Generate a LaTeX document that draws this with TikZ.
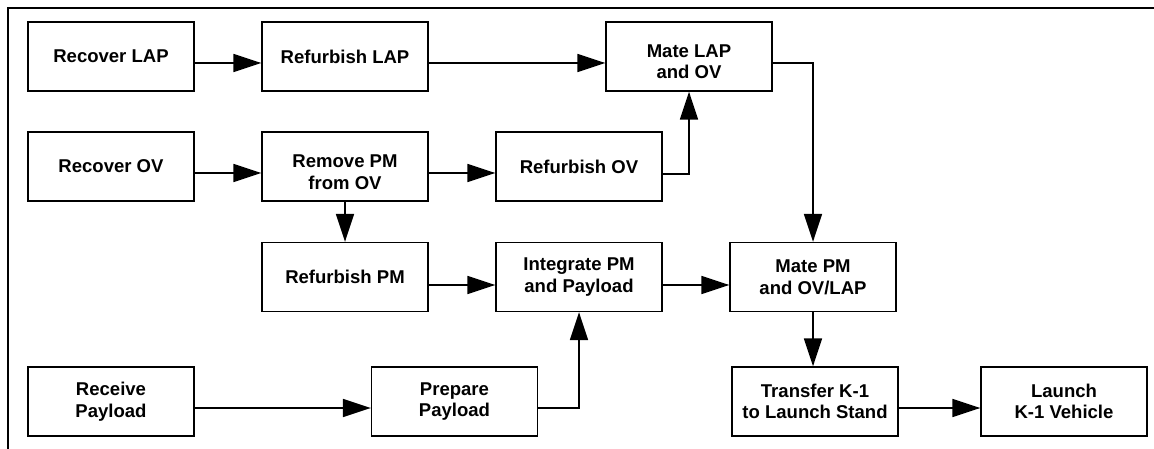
\documentclass[tikz,border=0pt]{standalone}
\usepackage{fontspec}
\setmainfont{Liberation Sans}
\usetikzlibrary{arrows.meta}
\begin{document}
\begin{tikzpicture}[x=0.75pt,y=-0.75pt,
  box/.style={draw,line width=1pt,minimum width=124.5pt,minimum height=51.75pt,
    inner sep=0pt,align=center,font=\fontsize{13.9}{16.3}\selectfont\bfseries},
  arr/.style={line width=1.3pt,-{Triangle[length=21pt,width=13.5pt]}},
  frame/.style={line width=1.6pt}]
\useasboundingbox (0,0) rectangle (1154,449);
\coordinate (ftl) at (8,8);
\coordinate (ftr) at (1154,8);
\coordinate (fbl) at (8,449);
\draw[frame] (fbl) -- (ftl) -- (ftr);

\node[box] (rlap) at (111,56.5) {Recover LAP};
\node[box] (flap) at (345,56.5) {Refurbish LAP};
\node[box] (mlap) at (689,56.5) {\rule{0pt}{17.5pt}Mate LAP\\and OV};
\node[box] (rov)  at (111,166.5) {Recover OV};
\node[box] (rpm)  at (345,166.5) {\rule{0pt}{18.5pt}Remove PM\\from OV};
\node[box] (fov)  at (579,166.5) {Refurbish OV};
\node[box] (fpm)  at (345,277) {Refurbish PM};
\node[box] (ipm)  at (579,277) {Integrate PM\\and Payload};
\node[box] (mpm)  at (813,277) {Mate PM\\and OV/LAP};
\node[box] (rpay) at (111,401.5) {Receive\\Payload};
\node[box] (ppay) at (454.5,401.5) {Prepare\\Payload};
\node[box] (tk1)  at (815,401.5) {Transfer K-1\\to Launch Stand};
\node[box] (lk1)  at (1064,401.5) {Launch\\K-1 Vehicle};

\draw[arr] (rlap.east |- 0,63) -- (flap.west |- 0,63);
\draw[arr] (flap.east |- 0,63) -- (mlap.west |- 0,63);
\draw[arr] (mlap.east |- 0,63) -| (mpm.north);
\draw[arr] (rov.east |- 0,173) -- (rpm.west |- 0,173);
\draw[arr] (rpm.east |- 0,173) -- (fov.west |- 0,173);
\draw[arr] (fov.east |- 0,174) -| (mlap.south);
\draw[arr] (rpm.south) -- (fpm.north);
\draw[arr] (fpm.east |- 0,285) -- (ipm.west |- 0,285);
\draw[arr] (ipm.east |- 0,285) -- (mpm.west |- 0,285);
\draw[arr] (rpay.east |- 0,408) -- (ppay.west |- 0,408);
\draw[arr] (ppay.east |- 0,408) -| (ipm.south);
\draw[arr] (mpm.south) -- (mpm.south |- tk1.north);
\draw[arr] (tk1.east |- 0,408) -- (lk1.west |- 0,408);
\end{tikzpicture}
\end{document}
